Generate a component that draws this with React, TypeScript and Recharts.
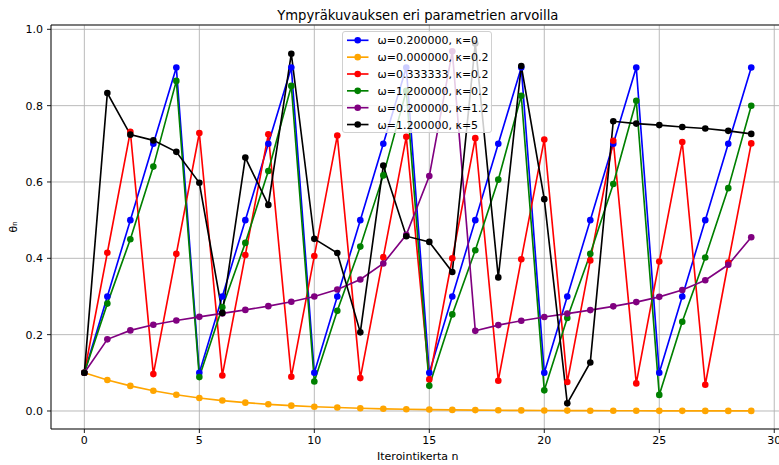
import React from 'react';
import { LineChart, Line, XAxis, YAxis, CartesianGrid, ReferenceArea } from 'recharts';

const iterations = [0,1,2,3,4,5,6,7,8,9,10,11,12,13,14,15,16,17,18,19,20,21,22,23,24,25,26,27,28,29];

const seriesBlue = [0.1,0.3,0.5,0.7,0.9,0.1,0.3,0.5,0.7,0.9,0.1,0.3,0.5,0.7,0.9,0.1,0.3,0.5,0.7,0.9,0.1,0.3,0.5,0.7,0.9,0.1,0.3,0.5,0.7,0.9];
const seriesOrange = [0.1,0.0813,0.0657,0.0529,0.0425,0.0341,0.0273,0.0219,0.0175,0.014,0.0112,0.009,0.0072,0.0057,0.0046,0.0037,0.0029,0.0023,0.0019,0.0015,0.0012,0.001,0.0008,0.0006,0.0005,0.0004,0.0003,0.0002,0.0002,0.0002];
const seriesRed = [0.1,0.4146,0.7317,0.0966,0.4117,0.7283,0.0931,0.4088,0.7249,0.0896,0.4059,0.7215,0.0862,0.4031,0.7182,0.0828,0.4002,0.7148,0.0793,0.3974,0.7114,0.0758,0.3946,0.708,0.0723,0.3918,0.7046,0.0688,0.389,0.7011];
const seriesGreen = [0.1,0.2813,0.4501,0.6403,0.8649,0.0888,0.2719,0.4404,0.6287,0.8517,0.0773,0.2624,0.4307,0.6173,0.8387,0.0658,0.253,0.4212,0.6061,0.8258,0.0541,0.2435,0.4117,0.5949,0.8128,0.0422,0.2339,0.4022,0.5839,0.7999];
const seriesPurple = [0.1,0.1877,0.2112,0.2258,0.237,0.2467,0.2557,0.2648,0.2747,0.2861,0.2999,0.3182,0.3445,0.3865,0.4614,0.6155,0.9423,0.21,0.225,0.2364,0.2461,0.2552,0.2643,0.2741,0.2853,0.299,0.317,0.3427,0.3831,0.4552];
const seriesBlack = [0.1,0.833,0.724,0.709,0.679,0.598,0.257,0.664,0.54,0.936,0.451,0.414,0.206,0.643,0.458,0.443,0.364,0.963,0.35,0.904,0.555,0.02,0.127,0.759,0.753,0.749,0.744,0.74,0.734,0.726];

const seriesLabels = [
  'ω=0.200000, κ=0',
  'ω=0.000000, κ=0.2',
  'ω=0.333333, κ=0.2',
  'ω=1.200000, κ=0.2',
  'ω=0.200000, κ=1.2',
  'ω=1.200000, κ=5',
];
const seriesColors = ['#0000ff', '#ffa500', '#ff0000', '#008000', '#800080', '#000000'];
const seriesValues = [seriesBlue, seriesOrange, seriesRed, seriesGreen, seriesPurple, seriesBlack];

const xTicks = [0, 5, 10, 15, 20, 25, 30];
const yTicks = [0, 0.2, 0.4, 0.6, 0.8, 1.0];

const titleText = 'Ympyräkuvauksen eri parametrien arvoilla';
const xLabelText = 'Iterointikerta n';
const yLabelText = 'θₙ';

const data = iterations.map((n, i) => {
  const row: Record<string, number> = { n };
  seriesValues.forEach((s, k) => {
    row['s' + k] = s[i];
  });
  return row;
});

const FONT = '"DejaVu Sans", sans-serif';
const X_DOMAIN: [number, number] = [-1.45, 30.45];
const Y_DOMAIN: [number, number] = [-0.0472, 1.0113];

export default function App() {
  return (
    <div style={{ position: 'fixed', left: 0, top: 0, width: 779, height: 465, overflow: 'hidden', background: '#fff', fontFamily: FONT }}>
      <LineChart
        width={800}
        height={465}
        data={data}
        margin={{ top: 25, right: 15.4, bottom: 0, left: 0 }}
      >
        <CartesianGrid stroke="#b0b0b0" strokeWidth={0.88} />
        <XAxis
          dataKey="n"
          type="number"
          domain={X_DOMAIN}
          ticks={xTicks}
          allowDataOverflow
          height={36}
          tickSize={4}
          tickMargin={3}
          axisLine={false}
          tickLine={{ stroke: '#000', strokeWidth: 0.88 }}
          tick={{ fill: '#000', fontSize: 11, fontFamily: FONT }}
          interval={0}
        />
        <YAxis
          type="number"
          domain={Y_DOMAIN}
          ticks={yTicks}
          allowDataOverflow
          width={51}
          tickSize={4}
          tickMargin={4}
          axisLine={false}
          tickLine={{ stroke: '#000', strokeWidth: 0.88 }}
          tick={{ fill: '#000', fontSize: 11, fontFamily: FONT }}
          tickFormatter={(v: number) => v.toFixed(1)}
          interval={0}
        />
        {seriesValues.map((_, k) => (
          <Line
            key={k}
            type="linear"
            dataKey={'s' + k}
            stroke={seriesColors[k]}
            strokeWidth={1.65}
            dot={{ r: 3.3, fill: seriesColors[k], stroke: seriesColors[k], strokeWidth: 0 }}
            activeDot={false}
            isAnimationActive={false}
          />
        ))}
        <ReferenceArea
          x1={X_DOMAIN[0]}
          x2={X_DOMAIN[1]}
          y1={Y_DOMAIN[0]}
          y2={Y_DOMAIN[1]}
          fill="none"
          stroke="#000"
          strokeWidth={0.88}
          ifOverflow="visible"
        />
      </LineChart>
      <svg width={779} height={465} style={{ position: 'absolute', left: 0, top: 0, pointerEvents: 'none' }}>
        <text x={417.8} y={20} textAnchor="middle" fontSize={13.2} fontFamily={FONT} fill="#000">{titleText}</text>
        <text x={417.8} y={460} textAnchor="middle" fontSize={11} fontFamily={FONT} fill="#000">{xLabelText}</text>
        <text x={17} y={227} textAnchor="middle" fontSize={11} fontFamily={FONT} fill="#000" transform="rotate(-90 17 227)">{yLabelText}</text>
      </svg>
      <div
        style={{
          position: 'absolute',
          left: 342,
          top: 31,
          width: 150,
          height: 102,
          background: 'rgba(255,255,255,0.8)',
          border: '1px solid #d0d0d0',
          borderRadius: 3,
          boxSizing: 'border-box',
        }}
      >
        <svg width={150} height={102} style={{ position: 'absolute', left: -1, top: -1 }}>
          {seriesLabels.map((label, k) => {
            const cy = 9.3 + k * 16.85;
            return (
              <g key={k}>
                <line x1={5} x2={26.5} y1={cy} y2={cy} stroke={seriesColors[k]} strokeWidth={1.65} />
                <circle cx={15.7} cy={cy} r={3.3} fill={seriesColors[k]} />
                <text x={35.5} y={cy + 4} fontSize={11} fontFamily={FONT} fill="#000">{label}</text>
              </g>
            );
          })}
        </svg>
      </div>
    </div>
  );
}
